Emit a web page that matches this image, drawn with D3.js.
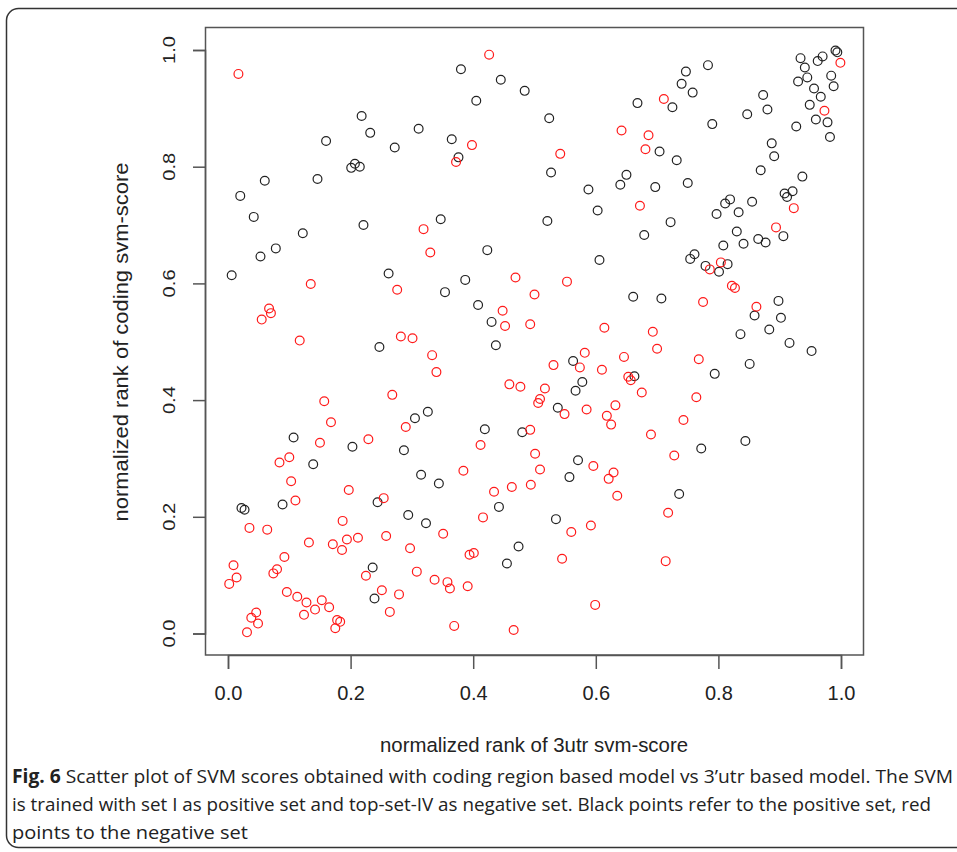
<!DOCTYPE html>
<html>
<head>
<meta charset="utf-8">
<title>Fig. 6 SVM scores scatter</title>
<script src="https://d3js.org/d3.v7.min.js"></script>
<style>
  body { margin: 0; background: #fff; }
  svg text { fill: #222; }
</style>
</head>
<body>
<svg id="chart" width="957" height="852"></svg>
<script>
// positive set (black circles): [3utr rank, coding rank]
const posX = [0.380,0.445,0.484,0.405,0.218,0.232,0.311,0.160,0.272,0.365,0.376,0.201,0.207,0.215,0.060,0.146,0.020,0.042,0.122,0.221,
  0.347,0.524,0.783,0.747,0.740,0.758,0.668,0.725,0.704,0.732,0.527,0.790,0.873,0.847,0.880,0.934,0.941,0.962,0.970,0.991,
  0.994,0.930,0.945,0.956,0.967,0.984,0.988,0.949,0.959,0.978,0.982,0.927,0.887,0.891,0.869,0.937,0.650,0.640,0.697,0.588,
  0.750,0.603,0.521,0.722,0.908,0.921,0.912,0.819,0.811,0.855,0.797,0.833,0.830,0.679,0.906,0.865,0.877,0.841,0.808,0.606,
  0.761,0.754,0.779,0.815,0.801,0.661,0.707,0.898,0.859,0.902,0.836,0.883,0.916,0.952,0.563,0.663,0.578,0.567,0.794,0.851,
  0.538,0.844,0.772,0.078,0.053,0.006,0.262,0.423,0.387,0.354,0.408,0.430,0.437,0.247,0.326,0.305,0.419,0.480,0.107,0.203,
  0.287,0.139,0.089,0.022,0.027,0.315,0.344,0.442,0.244,0.294,0.323,0.236,0.239,0.455,0.474,0.571,0.557,0.736,0.535];
const posY = [0.967,0.949,0.930,0.913,0.887,0.858,0.865,0.844,0.833,0.847,0.816,0.798,0.805,0.800,0.776,0.779,0.750,0.714,0.686,0.700,
  0.710,0.883,0.974,0.963,0.942,0.927,0.909,0.902,0.826,0.811,0.790,0.873,0.923,0.890,0.898,0.986,0.970,0.981,0.989,0.999,
  0.996,0.946,0.953,0.934,0.920,0.956,0.938,0.906,0.881,0.876,0.851,0.869,0.840,0.818,0.794,0.783,0.786,0.769,0.765,0.761,
  0.772,0.725,0.707,0.705,0.754,0.758,0.748,0.744,0.737,0.740,0.719,0.722,0.689,0.683,0.681,0.676,0.670,0.668,0.665,0.640,
  0.650,0.642,0.630,0.633,0.620,0.577,0.574,0.570,0.545,0.541,0.513,0.521,0.498,0.484,0.467,0.441,0.431,0.416,0.445,0.462,
  0.387,0.330,0.317,0.660,0.646,0.614,0.617,0.657,0.606,0.585,0.563,0.534,0.494,0.491,0.380,0.369,0.350,0.345,0.336,0.320,
  0.314,0.290,0.221,0.215,0.212,0.272,0.257,0.217,0.225,0.203,0.189,0.113,0.060,0.120,0.149,0.297,0.268,0.239,0.196];

// negative set (red circles)
const negX = [0.017,0.426,0.398,0.372,0.319,0.711,0.642,0.686,0.681,0.542,0.999,0.973,0.672,0.923,0.894,0.786,0.804,0.822,0.827,0.553,
  0.500,0.775,0.862,0.493,0.614,0.693,0.700,0.582,0.646,0.531,0.574,0.610,0.768,0.653,0.657,0.675,0.517,0.509,0.506,0.549,
  0.585,0.632,0.618,0.625,0.764,0.743,0.690,0.493,0.135,0.067,0.070,0.055,0.117,0.276,0.330,0.469,0.448,0.452,0.282,0.301,
  0.333,0.340,0.268,0.459,0.477,0.157,0.168,0.290,0.150,0.229,0.412,0.501,0.509,0.084,0.100,0.103,0.197,0.110,0.384,0.434,
  0.463,0.494,0.416,0.254,0.035,0.064,0.187,0.132,0.171,0.194,0.186,0.212,0.258,0.297,0.351,0.092,0.080,0.074,0.009,0.014,
  0.002,0.225,0.251,0.279,0.264,0.308,0.337,0.358,0.362,0.391,0.394,0.401,0.369,0.466,0.096,0.113,0.128,0.153,0.142,0.165,
  0.124,0.178,0.183,0.175,0.046,0.038,0.049,0.031,0.596,0.629,0.621,0.635,0.728,0.718,0.560,0.592,0.545,0.714,0.599];
const negY = [0.959,0.992,0.837,0.808,0.693,0.916,0.862,0.854,0.830,0.822,0.978,0.896,0.733,0.729,0.696,0.624,0.636,0.596,0.592,0.603,
  0.581,0.568,0.560,0.530,0.524,0.517,0.488,0.481,0.474,0.460,0.456,0.452,0.470,0.440,0.434,0.413,0.420,0.402,0.395,0.376,
  0.384,0.391,0.373,0.358,0.405,0.366,0.341,0.349,0.599,0.557,0.549,0.538,0.502,0.589,0.653,0.610,0.553,0.527,0.509,0.506,
  0.477,0.448,0.409,0.427,0.423,0.398,0.362,0.354,0.327,0.333,0.323,0.308,0.281,0.293,0.302,0.261,0.246,0.228,0.279,0.243,
  0.251,0.255,0.199,0.232,0.181,0.178,0.193,0.156,0.153,0.161,0.143,0.164,0.167,0.146,0.171,0.131,0.110,0.103,0.117,0.096,
  0.085,0.099,0.074,0.067,0.037,0.106,0.092,0.088,0.077,0.081,0.135,0.138,0.013,0.006,0.071,0.063,0.053,0.057,0.041,0.045,
  0.032,0.023,0.020,0.009,0.036,0.027,0.017,0.002,0.287,0.276,0.265,0.236,0.305,0.207,0.174,0.185,0.128,0.124,0.049];

const tickVals = [0, 0.2, 0.4, 0.6, 0.8, 1.0];
const tickLabels = ["0.0", "0.2", "0.4", "0.6", "0.8", "1.0"];
const xTitle = "normalized rank of 3utr svm-score";
const yTitle = "normalized rank of coding svm-score";
const captionBold = "Fig. 6";
const captionLines = [
  " Scatter plot of SVM scores obtained with coding region based model vs 3\u2019utr based model. The SVM",
  "is trained with set I as positive set and top-set-IV as negative set. Black points refer to the positive set, red",
  "points to the negative set"
];

const svg = d3.select("#chart");
const plotFont = "'Liberation Sans', Arial, Helvetica, sans-serif";

// outer figure frame (right side runs off the page)
svg.append("rect")
  .attr("x", 6.5).attr("y", 8.5)
  .attr("width", 980).attr("height", 839)
  .attr("rx", 12).attr("ry", 12)
  .attr("fill", "none")
  .attr("stroke", "#333").attr("stroke-width", 1.5);

// scales (R style: 4% padding around 0..1)
const xs = d3.scaleLinear().domain([0, 1]).range([228, 841]);
const ys = d3.scaleLinear().domain([0, 1]).range([633.5, 50]);

// plot box
svg.append("rect")
  .attr("x", 205.5).attr("y", 27.5)
  .attr("width", 658).attr("height", 627.5)
  .attr("fill", "none")
  .attr("stroke", "#555").attr("stroke-width", 1.5);

// x axis
const xAxis = svg.append("g")
  .attr("transform", "translate(0,655)")
  .call(d3.axisBottom(xs).tickValues(tickVals).tickSize(14).tickPadding(17)
    .tickFormat((d, i) => tickLabels[i]));
xAxis.select(".domain").attr("stroke", "#555").attr("stroke-width", 1.5);
xAxis.selectAll(".tick line").attr("stroke", "#555").attr("stroke-width", 1.5);
xAxis.selectAll(".tick text")
  .attr("font-family", plotFont).attr("font-size", 20).attr("fill", "#222");

// y axis, labels rotated like base R
const yAxis = svg.append("g")
  .attr("transform", "translate(205,0)")
  .call(d3.axisLeft(ys).tickValues(tickVals).tickSize(12).tickFormat(""));
yAxis.select(".domain").attr("stroke", "#555").attr("stroke-width", 1.5);
yAxis.selectAll(".tick line").attr("stroke", "#555").attr("stroke-width", 1.5);

svg.append("g").selectAll("text")
  .data(tickVals)
  .join("text")
  .attr("transform", d => "translate(175," + ys(d) + ") rotate(-90)")
  .attr("text-anchor", "middle")
  .attr("font-family", plotFont)
  .attr("font-size", 16)
  .attr("textLength", 28)
  .attr("lengthAdjust", "spacingAndGlyphs")
  .text((d, i) => tickLabels[i]);

// axis titles
svg.append("text")
  .attr("x", 534).attr("y", 752)
  .attr("text-anchor", "middle")
  .attr("font-family", plotFont).attr("font-size", 20.5)
  .attr("textLength", 308).attr("lengthAdjust", "spacingAndGlyphs")
  .text(xTitle);

svg.append("text")
  .attr("transform", "translate(128,342) rotate(-90)")
  .attr("text-anchor", "middle")
  .attr("font-family", plotFont).attr("font-size", 20.5)
  .attr("textLength", 359).attr("lengthAdjust", "spacingAndGlyphs")
  .text(yTitle);

// points
function drawSet(xv, yv, colour) {
  svg.append("g").selectAll("circle")
    .data(xv.map((x, i) => [x, yv[i]]))
    .join("circle")
    .attr("cx", d => xs(d[0]))
    .attr("cy", d => ys(d[1]))
    .attr("r", 4.4)
    .attr("fill", "none")
    .attr("stroke", colour)
    .attr("stroke-width", 1.2);
}
drawSet(posX, posY, "#222");
drawSet(negX, negY, "#ff1a1a");

// caption
const capFont = "'Open Sans', 'Noto Sans', sans-serif";
const line1 = svg.append("text")
  .attr("x", 12).attr("y", 783)
  .attr("font-family", capFont).attr("font-size", 19)
  .attr("textLength", 941).attr("lengthAdjust", "spacingAndGlyphs");
line1.append("tspan").attr("font-weight", "bold").text(captionBold);
line1.append("tspan").text(captionLines[0]);

svg.append("text")
  .attr("x", 12).attr("y", 811)
  .attr("font-family", capFont).attr("font-size", 19)
  .attr("textLength", 919).attr("lengthAdjust", "spacingAndGlyphs")
  .text(captionLines[1]);

svg.append("text")
  .attr("x", 12).attr("y", 839)
  .attr("font-family", capFont).attr("font-size", 19)
  .attr("textLength", 236).attr("lengthAdjust", "spacingAndGlyphs")
  .text(captionLines[2]);
</script>
</body>
</html>
